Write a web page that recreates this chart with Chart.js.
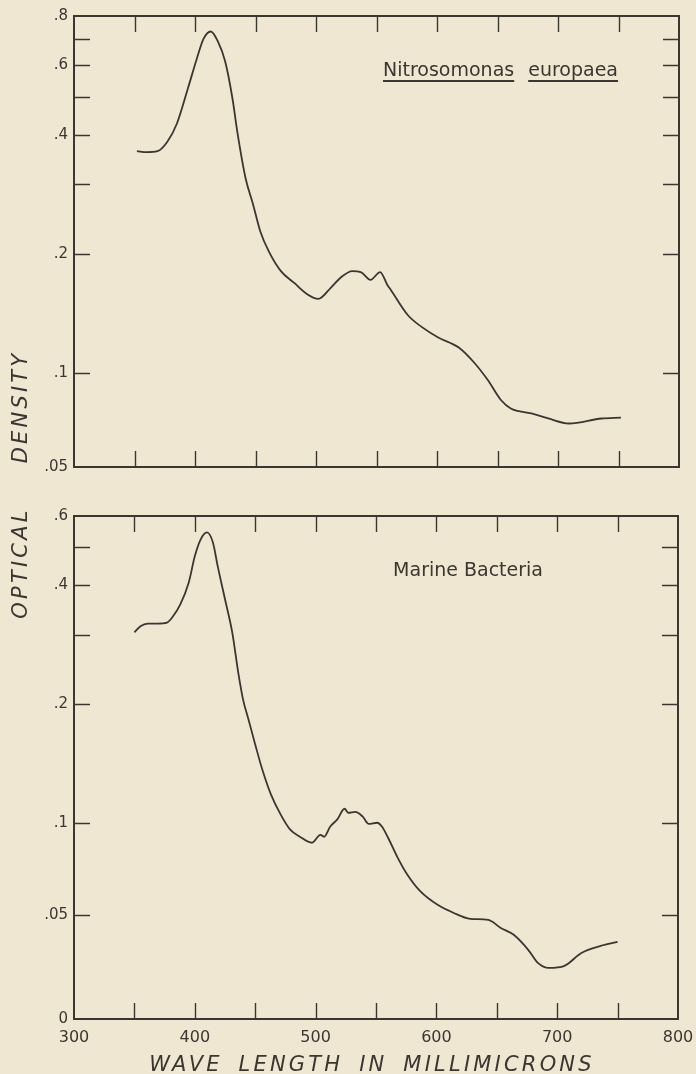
<!DOCTYPE html>
<html><head><meta charset="utf-8">
<script src="https://cdn.jsdelivr.net/npm/chart.js@4.4.0/dist/chart.umd.min.js"></script>
<style>
html,body{margin:0;padding:0;background:#f0e7d3;}
#wrap{position:relative;width:696px;height:1074px;overflow:hidden;background:#f0e7d3;font-family:"DejaVu Sans",sans-serif;color:#3a3631;}
canvas{position:absolute;left:0;}
.t{position:absolute;white-space:nowrap;}
.u{text-decoration:underline;text-decoration-thickness:1.5px;text-underline-offset:4px;}
.title{font-size:19px;line-height:19px;}
.ax{font-style:italic;font-size:21px;letter-spacing:3.2px;line-height:22px;}
</style></head><body>
<div id="wrap">
<canvas id="c1" width="696" height="482" style="top:0"></canvas>
<canvas id="c2" width="696" height="574" style="top:500px"></canvas>
<div class="t title" style="right:78px;top:60px;"><span class="u">Nitrosomonas</span><span style="display:inline-block;width:14px"></span><span class="u">europaea</span></div>
<div class="t title" style="right:153px;top:560px;">Marine Bacteria</div>
<div class="t ax" style="left:20px;top:407px;transform:translate(-50%,-50%) rotate(-90deg);">DENSITY</div>
<div class="t ax" style="left:20px;top:563px;transform:translate(-50%,-50%) rotate(-90deg);">OPTICAL</div>
<div class="t ax" style="left:372px;top:1064px;transform:translate(-50%,-50%);word-spacing:6px;">WAVE LENGTH IN MILLIMICRONS</div>
</div>
<script>
// ---- data ----
const wavelengthTop = [352,360,369,377,385,394,402,407,413,419,425,431,435,442,448,454,461,471,482,493,502,512,521,530,537,545,553,559,562,576,587,601,618,631,642,653,661,678,692,709,736,752];
const densityTop = [.364,.362,.364,.384,.427,.523,.631,.70,.731,.689,.613,.494,.407,.309,.267,.228,.203,.181,.169,.158,.154,.164,.175,.181,.180,.172,.180,.167,.162,.140,.131,.123,.116,.106,.0949,.0818,.077,.0742,.0715,.0689,.0715,.072];
const wavelengthBottom = [350,355,361,369,377,382,388,395,400,405,410,415,419,425,431,436,440,444,450,456,463,471,479,487,497,504,507,512,518,524,527,533,539,544,551,555,560,568,576,587,601,614,628,643,653,664,676,684,693,706,720,736,750];
const densityBottom = [.304,.315,.320,.320,.322,.334,.358,.407,.474,.524,.545,.514,.447,.369,.304,.240,.205,.185,.158,.136,.118,.105,.0949,.090,.086,.0913,.090,.097,.102,.1085,.106,.1066,.1036,.0992,.100,.097,.0893,.0768,.0676,.0595,.0539,.0508,.0481,.0476,.0438,.0404,.0332,.0269,.0245,.0255,.0317,.0351,.037];
const titleTop = "Nitrosomonas europaea";
const titleBottom = "Marine Bacteria";
const xTickValues = [300,350,400,450,500,550,600,650,700,750,800];
const xTickLabels = ['300','','400','','500','','600','','700','','800'];
const yTickValuesTop = [0.8,0.7,0.6,0.5,0.4,0.3,0.2,0.1,0.05];
const yTickLabelsTop = ['.8','','.6','','.4','','.2','.1','.05'];
const yTickValuesBottom = [0.6,0.5,0.4,0.3,0.2,0.1,0.05,0];
const yTickLabelsBottom = ['.6','','.4','','.2','.1','.05','0'];

// ---- scale geometry of the printed axes (piecewise log, as drawn) ----
const AXIS_ANCHORS = {
  c1: [[0.05,-0.79],[0.1,0],[0.8,3]],
  c2: [[0,-1.654],[0.05,-0.776],[0.1,0],[0.6,2.585]]
};
function unitOf(a, v) {
  let i = 0;
  while (i < a.length - 2 && v > a[i+1][0]) i++;
  const [v0,u0] = a[i], [v1,u1] = a[i+1];
  const t = (v0 > 0 && v > 0) ? Math.log(v/v0)/Math.log(v1/v0) : (v - v0)/(v1 - v0);
  return u0 + t*(u1 - u0);
}
function valueOf(a, u) {
  let i = 0;
  while (i < a.length - 2 && u > a[i+1][1]) i++;
  const [v0,u0] = a[i], [v1,u1] = a[i+1];
  const t = (u - u0)/(u1 - u0);
  return (v0 > 0) ? v0*Math.pow(v1/v0, t) : v0 + t*(v1 - v0);
}
class PiecewiseLogScale extends Chart.LinearScale {
  getPixelForValue(value) {
    if (value === null || value === undefined || isNaN(value)) return NaN;
    const a = AXIS_ANCHORS[this.chart.canvas.id];
    const u0 = unitOf(a, this.min), u1 = unitOf(a, this.max);
    return this.getPixelForDecimal((unitOf(a, value) - u0)/(u1 - u0));
  }
  getValueForPixel(pixel) {
    const a = AXIS_ANCHORS[this.chart.canvas.id];
    const u0 = unitOf(a, this.min), u1 = unitOf(a, this.max);
    return valueOf(a, u0 + this.getDecimalForPixel(pixel)*(u1 - u0));
  }
}
PiecewiseLogScale.id = 'piecewiseLog';
PiecewiseLogScale.defaults = {};
Chart.register(PiecewiseLogScale);

const INK = '#3a3631';
const frame = {
  id: 'frame',
  afterDraw(chart) {
    const ctx = chart.ctx, ca = chart.chartArea, L = 16;
    ctx.save();
    ctx.strokeStyle = INK;
    ctx.lineWidth = 1.4;
    const xs = chart.scales.x, ys = chart.scales.y;
    ctx.beginPath();
    xs.ticks.forEach(t => {
      if (t.value <= xs.min || t.value >= xs.max) return;
      const px = Math.round(xs.getPixelForValue(t.value)) + 0.5;
      ctx.moveTo(px, ca.top); ctx.lineTo(px, ca.top + L);
      ctx.moveTo(px, ca.bottom); ctx.lineTo(px, ca.bottom - L);
    });
    ys.ticks.forEach(t => {
      if (t.value <= ys.min || t.value >= ys.max) return;
      const py = Math.round(ys.getPixelForValue(t.value)) + 0.5;
      ctx.moveTo(ca.left, py); ctx.lineTo(ca.left + L, py);
      ctx.moveTo(ca.right, py); ctx.lineTo(ca.right - L, py);
    });
    ctx.stroke();
    ctx.lineWidth = 2;
    ctx.strokeRect(ca.left, ca.top, ca.right - ca.left, ca.bottom - ca.top);
    ctx.restore();
  }
};

function makeChart(id, xs, ys, yMin, yMax, yVals, yLabels, showX, pad) {
  return new Chart(document.getElementById(id), {
    type: 'line',
    data: { datasets: [{
      data: xs.map((x, i) => ({x, y: ys[i]})),
      borderColor: INK, borderWidth: 1.8, pointRadius: 0,
      cubicInterpolationMode: 'monotone', fill: false
    }]},
    options: {
      responsive: false, animation: false, events: [],
      layout: { padding: pad },
      plugins: { legend: {display:false}, tooltip: {enabled:false} },
      scales: {
        x: {
          type: 'linear', min: 300, max: 800, display: showX,
          afterBuildTicks: s => { s.ticks = xTickValues.map(v => ({value: v})); },
          afterFit: s => {
            s.height = showX ? 55 : 0;
            s.paddingLeft = 0; s.paddingRight = 0;
          },
          grid: { display: false, drawTicks: false },
          border: { display: false },
          ticks: { autoSkip: false, maxRotation: 0, padding: 9, color: INK,
                   font: { family: 'DejaVu Sans', size: 16 },
                   callback: (v, i) => xTickLabels[i] }
        },
        y: {
          type: 'piecewiseLog', min: yMin, max: yMax,
          afterBuildTicks: s => { s.ticks = yVals.map(v => ({value: v})); },
          afterFit: s => { s.width = 74; s.paddingTop = 0; s.paddingBottom = 0; },
          grid: { display: false, drawTicks: false },
          border: { display: false },
          ticks: { autoSkip: false, padding: 6, color: INK,
                   font: { family: 'DejaVu Sans', size: 15 },
                   callback: (v, i) => yLabels[i] }
        }
      }
    },
    plugins: [frame]
  });
}
makeChart('c1', wavelengthTop, densityTop, 0.05, 0.8, yTickValuesTop, yTickLabelsTop, false, {top:16, right:17, left:0, bottom:15});
makeChart('c2', wavelengthBottom, densityBottom, 0, 0.6, yTickValuesBottom, yTickLabelsBottom, true, {top:16, right:18, left:0, bottom:0});
</script>
</body></html>
